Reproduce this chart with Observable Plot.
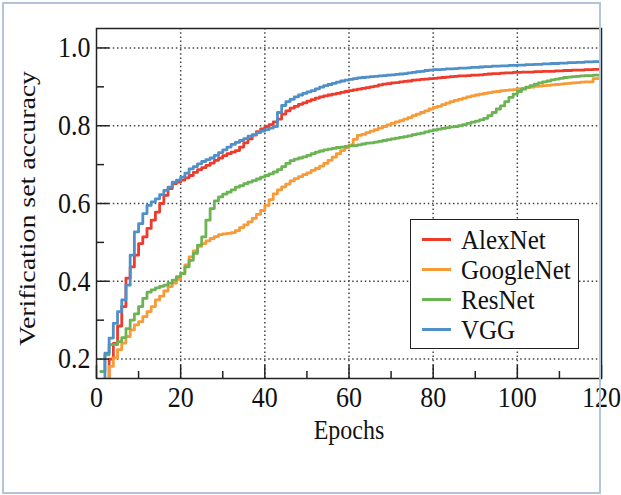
<!DOCTYPE html>
<html>
<head>
<meta charset="utf-8">
<script src="https://cdn.jsdelivr.net/npm/d3@7"></script>
<script src="https://cdn.jsdelivr.net/npm/@observablehq/plot@0.6"></script>
<style>
  body { margin: 0; background: #fff; }
  #wrap { position: relative; width: 621px; height: 495px; font-family: "Liberation Serif", "Times New Roman", serif; }
  #wrap svg { position: absolute; left: 0; top: 0; }
  #border { position: absolute; left: 2px; top: 2px; width: 595px; height: 488px; border: 2px solid #b3c5db; pointer-events: none; }
  #legend { position: absolute; left: 410px; top: 219px; width: 167px; height: 124px; border: 1.5px solid #222; background: #fff; box-sizing: content-box; padding-top: 4px; }
  #legend .row { display: flex; align-items: center; height: 30px; font-size: 25px; color: #111; }
  #legend .sw { width: 29px; height: 3px; margin-left: 11px; margin-right: 10px; }
  #legend .lbl { display: inline-block; transform: scaleY(1.12); transform-origin: 50% 55%; line-height: 1; }
</style>
</head>
<body>
<div id="wrap"><div id="border"></div></div>
<script>
// Verification set accuracy per epoch (epochs 1..120) for each network
const modelNames = ["AlexNet", "GoogleNet", "ResNet", "VGG"];
const modelColors = ["#ee3b2b", "#f89a36", "#6cb353", "#4f90c9"];

const alexnet = [
  0.10, 0.14, 0.20, 0.24, 0.285, 0.335, 0.408, 0.437, 0.467, 0.497,
  0.514, 0.536, 0.557, 0.578, 0.60, 0.621, 0.638, 0.651, 0.655, 0.66,
  0.666, 0.672, 0.68, 0.687, 0.692, 0.698, 0.704, 0.711, 0.717, 0.723,
  0.728, 0.732, 0.736, 0.745, 0.756, 0.766, 0.776, 0.785, 0.792, 0.798,
  0.803, 0.81, 0.817, 0.83, 0.838, 0.845, 0.85, 0.855, 0.859, 0.863,
  0.867, 0.871, 0.874, 0.877, 0.879, 0.881, 0.883, 0.886, 0.888, 0.89,
  0.892, 0.894, 0.896, 0.898, 0.90, 0.902, 0.905, 0.907, 0.908, 0.91,
  0.911, 0.913, 0.914, 0.915, 0.917, 0.918, 0.919, 0.92, 0.921, 0.922,
  0.923, 0.924, 0.925, 0.926, 0.927, 0.928, 0.928, 0.929, 0.93, 0.93,
  0.931, 0.932, 0.933, 0.934, 0.934, 0.935, 0.936, 0.936, 0.937, 0.937,
  0.938, 0.938, 0.938, 0.939, 0.939, 0.94, 0.94, 0.94, 0.941, 0.941,
  0.942, 0.942, 0.943, 0.943, 0.943, 0.944, 0.944, 0.945, 0.945, 0.946
];

const googlenet = [
  0.10, 0.12, 0.181, 0.203, 0.224, 0.241, 0.258, 0.275, 0.288, 0.296,
  0.309, 0.322, 0.335, 0.352, 0.362, 0.375, 0.386, 0.395, 0.405, 0.42,
  0.442, 0.463, 0.478, 0.49, 0.497, 0.504, 0.51, 0.515, 0.52, 0.522,
  0.523, 0.525, 0.53, 0.538, 0.545, 0.553, 0.562, 0.572, 0.582, 0.595,
  0.61, 0.625, 0.635, 0.643, 0.65, 0.658, 0.664, 0.669, 0.674, 0.679,
  0.685, 0.69, 0.696, 0.703, 0.711, 0.719, 0.728, 0.736, 0.744, 0.751,
  0.765, 0.775, 0.778, 0.782, 0.786, 0.79, 0.794, 0.798, 0.802, 0.806,
  0.81, 0.813, 0.817, 0.821, 0.826, 0.83, 0.834, 0.838, 0.843, 0.847,
  0.85, 0.854, 0.858, 0.862, 0.865, 0.868, 0.871, 0.874, 0.877, 0.879,
  0.881, 0.883, 0.885, 0.887, 0.888, 0.89, 0.891, 0.892, 0.893, 0.895,
  0.896, 0.898, 0.899, 0.901, 0.902, 0.903, 0.904, 0.905, 0.906, 0.907,
  0.908, 0.909, 0.91, 0.911, 0.912, 0.913, 0.913, 0.921, 0.921, 0.922
];

const resnet = [
  0.168, 0.211, 0.237, 0.237, 0.245, 0.255, 0.278, 0.30, 0.316, 0.335,
  0.356, 0.372, 0.378, 0.383, 0.387, 0.39, 0.395, 0.403, 0.412, 0.42,
  0.437, 0.454, 0.472, 0.493, 0.514, 0.557, 0.587, 0.607, 0.617, 0.624,
  0.629, 0.635, 0.642, 0.646, 0.651, 0.655, 0.659, 0.663, 0.668, 0.672,
  0.676, 0.681, 0.687, 0.695, 0.703, 0.71, 0.714, 0.717, 0.72, 0.724,
  0.728, 0.732, 0.735, 0.738, 0.74, 0.742, 0.744, 0.745, 0.747, 0.748,
  0.749, 0.751, 0.753, 0.755, 0.756, 0.758, 0.76, 0.762, 0.764, 0.766,
  0.768, 0.77, 0.772, 0.774, 0.777, 0.779, 0.781, 0.784, 0.787, 0.789,
  0.791, 0.793, 0.795, 0.797, 0.798, 0.80, 0.803, 0.806, 0.809, 0.812,
  0.815, 0.819, 0.826, 0.834, 0.843, 0.851, 0.862, 0.873, 0.881, 0.888,
  0.894, 0.899, 0.903, 0.907, 0.91, 0.913, 0.915, 0.918, 0.92, 0.922,
  0.924, 0.925, 0.926, 0.927, 0.928, 0.929, 0.929, 0.93, 0.93, 0.931
];

const vgg = [
  0.10, 0.215, 0.254, 0.292, 0.322, 0.352, 0.39, 0.467, 0.527, 0.548,
  0.574, 0.595, 0.604, 0.612, 0.623, 0.634, 0.642, 0.655, 0.66, 0.668,
  0.678, 0.689, 0.695, 0.702, 0.708, 0.713, 0.717, 0.724, 0.731, 0.738,
  0.745, 0.752, 0.757, 0.762, 0.767, 0.773, 0.777, 0.782, 0.786, 0.79,
  0.794, 0.798, 0.834, 0.852, 0.862, 0.868, 0.874, 0.879, 0.883, 0.887,
  0.89, 0.895, 0.899, 0.903, 0.906, 0.909, 0.912, 0.915, 0.917, 0.919,
  0.921, 0.923, 0.924, 0.925, 0.926, 0.927, 0.928, 0.929, 0.93, 0.931,
  0.932, 0.933, 0.934, 0.936, 0.937, 0.939, 0.94, 0.942, 0.943, 0.944,
  0.944, 0.945, 0.946, 0.946, 0.947, 0.948, 0.948, 0.949, 0.95, 0.95,
  0.951, 0.952, 0.952, 0.953, 0.953, 0.954, 0.954, 0.955, 0.955, 0.956,
  0.956, 0.957, 0.957, 0.958, 0.958, 0.959, 0.959, 0.96, 0.96, 0.961,
  0.961, 0.962, 0.962, 0.963, 0.963, 0.964, 0.964, 0.965, 0.965, 0.966
];

// Axis ticks
const xMajor = [0, 20, 40, 60, 80, 100, 120];
const xMinor = [10, 30, 50, 70, 90, 110];
const yMajor = [0.2, 0.4, 0.6, 0.8, 1.0];
const yMinor = [0.3, 0.5, 0.7, 0.9];

const seriesValues = [alexnet, googlenet, resnet, vgg];
const rows = modelNames.flatMap((name, k) =>
  seriesValues[k].map((acc, i) => ({epoch: i + 1, acc, model: name}))
);

const W = 621, H = 495;
const mL = 96, mR = 20, mT = 28, mB = 117;
const innerW = W - mL - mR, innerH = H - mT - mB;

const dotted = {stroke: "#444", strokeOpacity: 1, strokeWidth: 1.5, strokeDasharray: "1.5 2.7"};
const tickStyle = {stroke: "#222", strokeWidth: 1.5};
const textStretch = 1.12;

const chart = Plot.plot({
  width: W,
  height: H,
  marginLeft: mL,
  marginRight: mR,
  marginTop: mT,
  marginBottom: mB,
  style: {fontFamily: "'Liberation Serif', 'Times New Roman', serif", fontSize: "24px", color: "#111", background: "transparent"},
  x: {domain: [0, 120]},
  y: {domain: [0.15, 1.05]},
  color: {domain: modelNames, range: modelColors},
  marks: [
    Plot.gridX(xMajor.slice(1, -1), dotted),
    Plot.gridY(yMajor, dotted),
    Plot.line(rows, {x: "epoch", y: "acc", z: "model", stroke: "model", curve: "step-after", strokeWidth: 2.8, clip: true}),
    Plot.tickX(xMajor, {x: d => d, insetTop: innerH - 13, ...tickStyle}),
    Plot.tickX(xMinor, {x: d => d, insetTop: innerH - 7, ...tickStyle}),
    Plot.tickY(yMajor, {y: d => d, insetRight: innerW - 13, ...tickStyle}),
    Plot.tickY(yMinor, {y: d => d, insetRight: innerW - 8, ...tickStyle}),
    Plot.frame({stroke: "#222", strokeWidth: 1.5}),
    Plot.axisX(xMajor, {tickSize: 0, tickPadding: 8, label: null, fontSize: 26}),
    Plot.axisY(yMajor, {tickSize: 0, tickPadding: 6, label: null, fontSize: 26, tickFormat: d3.format(".1f")}),
    Plot.text(["Epochs"], {frameAnchor: "bottom", dy: 60, fontSize: 24, fill: "#111"}),
    Plot.text(["Verification set accuracy"], {frameAnchor: "left", textAnchor: "middle", dx: -69, dy: 5, rotate: -90, fontSize: 24, fill: "#111"})
  ]
});

// Slightly tall, condensed lettering: stretch each text along the screen's vertical
chart.querySelectorAll("text").forEach(t => {
  const tr = t.getAttribute("transform") || "";
  const rotated = /rotate\(/.test(tr);
  const k = rotated ? 1.16 : textStretch;
  const extra = rotated ? ` scale(${k},1)` : ` scale(1,${k})`;
  if (tr) {
    t.setAttribute("transform", tr + extra);
  } else {
    const x = t.getAttribute("x") || 0, y = t.getAttribute("y") || 0;
    t.removeAttribute("x");
    t.removeAttribute("y");
    t.setAttribute("transform", `translate(${x},${y})` + extra);
  }
});

const wrap = document.getElementById("wrap");
wrap.insertBefore(chart, wrap.firstChild);

// Legend box inside the plot area
const legend = document.createElement("div");
legend.id = "legend";
modelNames.forEach((name, k) => {
  const row = document.createElement("div");
  row.className = "row";
  const sw = document.createElement("span");
  sw.className = "sw";
  sw.style.background = modelColors[k];
  const label = document.createElement("span");
  label.className = "lbl";
  label.textContent = name;
  row.appendChild(sw);
  row.appendChild(label);
  legend.appendChild(row);
});
wrap.appendChild(legend);
</script>
</body>
</html>
